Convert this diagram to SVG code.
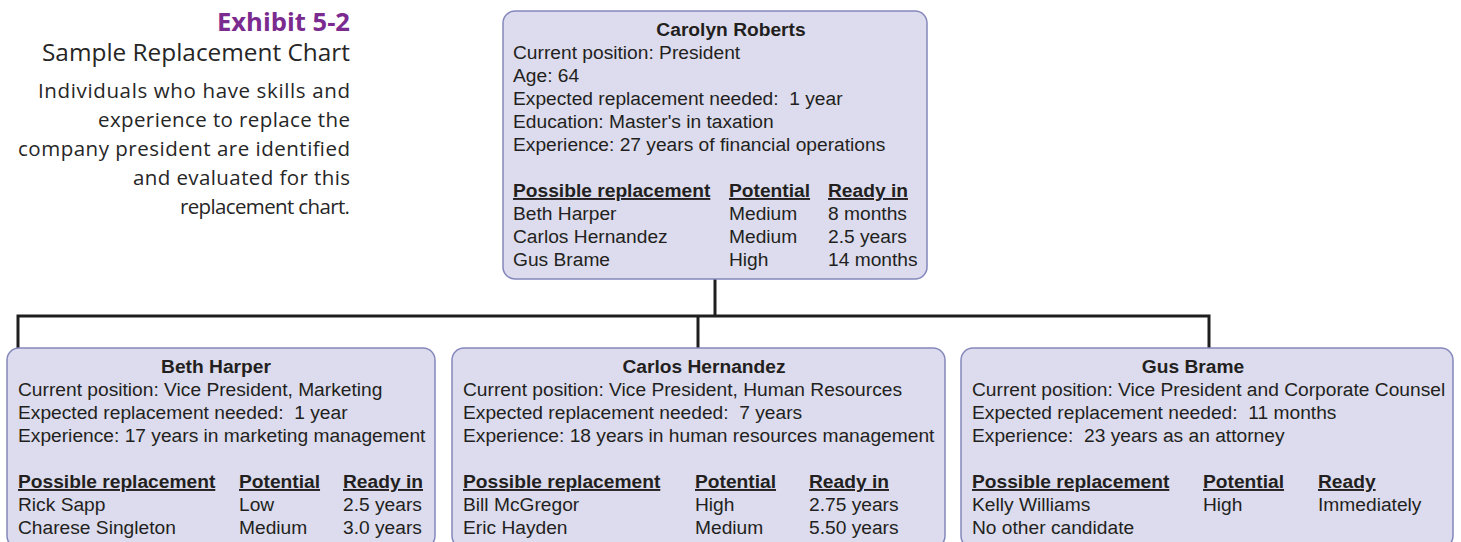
<svg xmlns="http://www.w3.org/2000/svg" width="1461" height="542" viewBox="0 0 1461 542">
<style>
  .box { fill: #dcdcee; stroke: #8487bb; stroke-width: 1.5; }
  .t { font-family: "Liberation Sans", Arial, sans-serif; font-size: 19.2px; fill: #231f20; }
  .b { font-weight: bold; }
  .c { text-anchor: middle; }
  .u { font-weight: bold; text-decoration: underline; }
  .conn { fill: none; stroke: #1e1e1e; stroke-width: 3; }
  .hd { font-family: "Open Sans", "Liberation Sans", sans-serif; text-anchor: end; fill: #262626; }
  .ds { font-size: 20.5px; }
</style>
<rect width="1461" height="542" fill="#ffffff"/>

<g id="caption">
  <text class="hd" x="350" y="31" font-size="25" font-weight="bold" style="fill:#7b2a8f" textLength="133" lengthAdjust="spacingAndGlyphs">Exhibit 5-2</text>
  <text class="hd" x="350" y="61" font-size="23" textLength="308" lengthAdjust="spacingAndGlyphs">Sample Replacement Chart</text>
  <text class="hd ds" x="350" y="98" textLength="312" lengthAdjust="spacing">Individuals who have skills and</text>
  <text class="hd ds" x="350" y="127" textLength="252" lengthAdjust="spacing">experience to replace the</text>
  <text class="hd ds" x="350" y="156" textLength="332" lengthAdjust="spacing">company president are identified</text>
  <text class="hd ds" x="350" y="185" textLength="217" lengthAdjust="spacing">and evaluated for this</text>
  <text class="hd ds" x="350" y="214" textLength="170" lengthAdjust="spacing">replacement chart.</text>
</g>

<g id="connectors">
  <path class="conn" d="M715 279 V316"/>
  <path class="conn" d="M18 348 V316 H1209 V348"/>
  <path class="conn" d="M698 316 V348"/>
</g>

<g id="node-carolyn-roberts">
  <rect class="box" x="503" y="11" width="424" height="268" rx="12"/>
  <text class="t b c" x="731" y="36">Carolyn Roberts</text>
  <text class="t" x="513" y="59">Current position: President</text>
  <text class="t" x="513" y="82">Age: 64</text>
  <text class="t" x="513" y="105" xml:space="preserve">Expected replacement needed:  1 year</text>
  <text class="t" x="513" y="128">Education: Master's in taxation</text>
  <text class="t" x="513" y="151">Experience: 27 years of financial operations</text>
  <text class="t u" x="513" y="197">Possible replacement</text>
  <text class="t u" x="729" y="197">Potential</text>
  <text class="t u" x="828" y="197">Ready in</text>
  <text class="t" x="513" y="220">Beth Harper</text>
  <text class="t" x="729" y="220">Medium</text>
  <text class="t" x="828" y="220">8 months</text>
  <text class="t" x="513" y="243">Carlos Hernandez</text>
  <text class="t" x="729" y="243">Medium</text>
  <text class="t" x="828" y="243">2.5 years</text>
  <text class="t" x="513" y="266">Gus Brame</text>
  <text class="t" x="729" y="266">High</text>
  <text class="t" x="828" y="266">14 months</text>
</g>

<g id="node-beth-harper">
  <rect class="box" x="7" y="348" width="428" height="200" rx="12"/>
  <text class="t b c" x="216" y="373">Beth Harper</text>
  <text class="t" x="18" y="396">Current position: Vice President, Marketing</text>
  <text class="t" x="18" y="419" xml:space="preserve">Expected replacement needed:  1 year</text>
  <text class="t" x="18" y="442">Experience: 17 years in marketing management</text>
  <text class="t u" x="18" y="488">Possible replacement</text>
  <text class="t u" x="239" y="488">Potential</text>
  <text class="t u" x="343" y="488">Ready in</text>
  <text class="t" x="18" y="511">Rick Sapp</text>
  <text class="t" x="239" y="511">Low</text>
  <text class="t" x="343" y="511">2.5 years</text>
  <text class="t" x="18" y="534">Charese Singleton</text>
  <text class="t" x="239" y="534">Medium</text>
  <text class="t" x="343" y="534">3.0 years</text>
</g>

<g id="node-carlos-hernandez">
  <rect class="box" x="452" y="348" width="493" height="200" rx="12"/>
  <text class="t b c" x="704" y="373">Carlos Hernandez</text>
  <text class="t" x="463" y="396">Current position: Vice President, Human Resources</text>
  <text class="t" x="463" y="419" xml:space="preserve">Expected replacement needed:  7 years</text>
  <text class="t" x="463" y="442">Experience: 18 years in human resources management</text>
  <text class="t u" x="463" y="488">Possible replacement</text>
  <text class="t u" x="695" y="488">Potential</text>
  <text class="t u" x="809" y="488">Ready in</text>
  <text class="t" x="463" y="511">Bill McGregor</text>
  <text class="t" x="695" y="511">High</text>
  <text class="t" x="809" y="511">2.75 years</text>
  <text class="t" x="463" y="534">Eric Hayden</text>
  <text class="t" x="695" y="534">Medium</text>
  <text class="t" x="809" y="534">5.50 years</text>
</g>

<g id="node-gus-brame">
  <rect class="box" x="961" y="348" width="492" height="200" rx="12"/>
  <text class="t b c" x="1193" y="373">Gus Brame</text>
  <text class="t" x="972" y="396">Current position: Vice President and Corporate Counsel</text>
  <text class="t" x="972" y="419" xml:space="preserve">Expected replacement needed:  11 months</text>
  <text class="t" x="972" y="442" xml:space="preserve">Experience:  23 years as an attorney</text>
  <text class="t u" x="972" y="488">Possible replacement</text>
  <text class="t u" x="1203" y="488">Potential</text>
  <text class="t u" x="1318" y="488">Ready</text>
  <text class="t" x="972" y="511">Kelly Williams</text>
  <text class="t" x="1203" y="511">High</text>
  <text class="t" x="1318" y="511">Immediately</text>
  <text class="t" x="972" y="534">No other candidate</text>
</g>
</svg>
